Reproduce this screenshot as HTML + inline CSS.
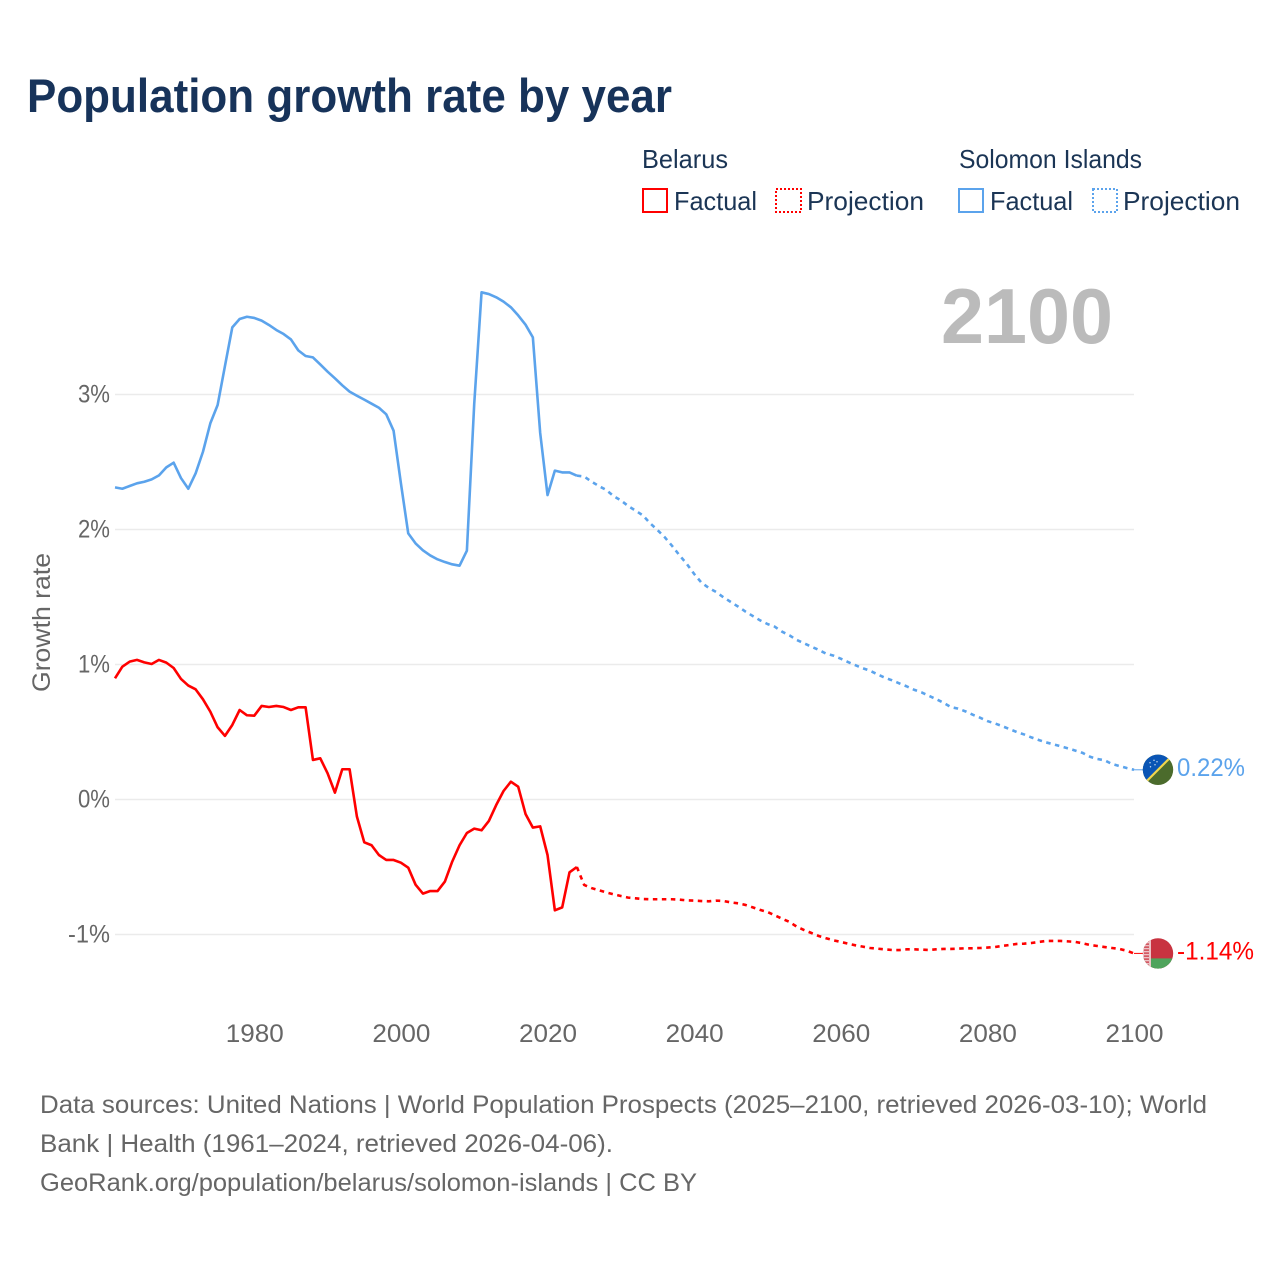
<!DOCTYPE html>
<html lang="en">
<head>
<meta charset="utf-8">
<title>Population growth rate by year</title>
<style>
html,body{margin:0;padding:0;background:#fff}
svg{display:block}
text{font-family:"Liberation Sans",sans-serif}
.legend{font-size:26px;fill:#1b3555}
.tick{font-size:25px;fill:#666}
.foot{font-size:25px;fill:#666}
</style>
</head>
<body>
<svg id="chart" width="1280" height="1280" viewBox="0 0 1280 1280" xmlns="http://www.w3.org/2000/svg">
  <rect width="1280" height="1280" fill="#fff"/>
  <text x="27" y="112" font-size="47" font-weight="700" fill="#17335a" textLength="645" lengthAdjust="spacingAndGlyphs">Population growth rate by year</text>

  <g>
    <text class="legend" x="642" y="168" textLength="86" lengthAdjust="spacingAndGlyphs">Belarus</text>
    <rect x="643" y="189" width="24" height="23" fill="none" stroke="#ff0000" stroke-width="2"/>
    <text class="legend" x="674" y="210" textLength="83" lengthAdjust="spacingAndGlyphs">Factual</text>
    <rect x="776" y="189" width="25" height="23" fill="none" stroke="#ff0000" stroke-width="2" stroke-dasharray="2 2"/>
    <text class="legend" x="807" y="210" textLength="117" lengthAdjust="spacingAndGlyphs">Projection</text>
    <text class="legend" x="959" y="168" textLength="183" lengthAdjust="spacingAndGlyphs">Solomon Islands</text>
    <rect x="959" y="189" width="24" height="23" fill="none" stroke="#5ba3ec" stroke-width="2"/>
    <text class="legend" x="990" y="210" textLength="83" lengthAdjust="spacingAndGlyphs">Factual</text>
    <rect x="1093" y="189" width="24" height="23" fill="none" stroke="#5ba3ec" stroke-width="2" stroke-dasharray="2 2"/>
    <text class="legend" x="1123" y="210" textLength="117" lengthAdjust="spacingAndGlyphs">Projection</text>
  </g>

  <text x="941" y="343" font-size="78" font-weight="700" fill="#bbbbbb" textLength="172" lengthAdjust="spacingAndGlyphs">2100</text>
  <text class="tick" x="0" y="0" transform="translate(50 622.5) rotate(-90)" text-anchor="middle" textLength="139" lengthAdjust="spacingAndGlyphs">Growth rate</text>

  <g id="grid"></g>
  <g id="yticks"></g>
  <g id="xticks"></g>
  <g id="series"></g>
  <g id="markers"></g>

  <g>
    <text class="foot" x="40" y="1113" textLength="1167" lengthAdjust="spacingAndGlyphs">Data sources: United Nations | World Population Prospects (2025–2100, retrieved 2026-03-10); World</text>
    <text class="foot" x="40" y="1152" textLength="573" lengthAdjust="spacingAndGlyphs">Bank | Health (1961–2024, retrieved 2026-04-06).</text>
    <text class="foot" x="40" y="1191" textLength="657" lengthAdjust="spacingAndGlyphs">GeoRank.org/population/belarus/solomon-islands | CC BY</text>
  </g>
</svg>
<script>
const firstYear = 1961;
const lastYear = 2100;
const projectionStartYear = 2024;
const xTickYears = [1980, 2000, 2020, 2040, 2060, 2080, 2100];
const yTickValues = [-1, 0, 1, 2, 3];

const belarusFactual = [
  0.898,0.984,1.021,1.034,1.016,1.004,1.034,1.014,0.974,0.893,
  0.844,0.816,0.742,0.651,0.535,0.471,0.552,0.663,0.624,0.621,
  0.693,0.685,0.693,0.685,0.663,0.683,0.683,0.293,0.305,0.194,
  0.051,0.224,0.224,-0.127,-0.317,-0.339,-0.411,-0.448,-0.448,-0.468,
  -0.505,-0.631,-0.697,-0.678,-0.678,-0.608,-0.460,-0.339,-0.248,-0.216,
  -0.228,-0.159,-0.041,0.063,0.132,0.095,-0.107,-0.208,-0.199,-0.411,
  -0.821,-0.799,-0.539,-0.500
];
const belarusProjection = [
  -0.500,-0.633,-0.656,-0.672,-0.688,-0.702,-0.715,-0.727,-0.732,-0.737,
  -0.739,-0.739,-0.739,-0.739,-0.742,-0.747,-0.749,-0.752,-0.754,-0.749,
  -0.752,-0.762,-0.769,-0.781,-0.799,-0.818,-0.833,-0.858,-0.883,-0.907,
  -0.942,-0.967,-0.989,-1.011,-1.028,-1.043,-1.055,-1.068,-1.080,-1.090,
  -1.100,-1.105,-1.110,-1.115,-1.115,-1.110,-1.110,-1.112,-1.115,-1.110,
  -1.107,-1.107,-1.105,-1.102,-1.102,-1.100,-1.097,-1.093,-1.085,-1.078,
  -1.070,-1.068,-1.063,-1.055,-1.048,-1.048,-1.048,-1.051,-1.055,-1.065,
  -1.078,-1.085,-1.093,-1.100,-1.107,-1.120,-1.140
];
const solomonFactual = [
  2.312,2.302,2.322,2.342,2.354,2.371,2.401,2.460,2.495,2.381,
  2.302,2.416,2.576,2.786,2.922,3.211,3.497,3.559,3.576,3.567,
  3.547,3.515,3.478,3.448,3.408,3.327,3.285,3.275,3.223,3.169,
  3.120,3.068,3.021,2.991,2.962,2.932,2.902,2.853,2.732,2.342,
  1.971,1.897,1.846,1.808,1.779,1.759,1.742,1.732,1.843,2.930,
  3.757,3.744,3.720,3.688,3.646,3.586,3.517,3.423,2.715,2.255,
  2.436,2.423,2.423,2.399
];
const solomonProjection = [
  2.399,2.392,2.355,2.322,2.293,2.248,2.216,2.174,2.140,2.105,
  2.046,1.996,1.942,1.878,1.809,1.745,1.671,1.606,1.567,1.537,
  1.498,1.463,1.429,1.392,1.359,1.327,1.300,1.280,1.243,1.216,
  1.182,1.157,1.132,1.108,1.080,1.066,1.043,1.018,0.995,0.972,
  0.954,0.927,0.902,0.883,0.860,0.838,0.813,0.794,0.769,0.744,
  0.717,0.685,0.673,0.653,0.628,0.606,0.581,0.564,0.544,0.522,
  0.500,0.482,0.460,0.441,0.423,0.409,0.394,0.379,0.362,0.345,
  0.317,0.300,0.290,0.263,0.248,0.233,0.220
];

const NS = 'http://www.w3.org/2000/svg';
const plotLeft = 115, plotRight = 1134;
const xScale = y => plotLeft + (y - firstYear) * (plotRight - plotLeft) / (lastYear - firstYear);
const yScale = v => 799.5 - v * 135;
const make = (tag, attrs, parent) => {
  const el = document.createElementNS(NS, tag);
  for (const k in attrs) el.setAttribute(k, attrs[k]);
  parent.appendChild(el);
  return el;
};
const grid = document.getElementById('grid');
const yticks = document.getElementById('yticks');
const xticks = document.getElementById('xticks');
const series = document.getElementById('series');
const markers = document.getElementById('markers');

yTickValues.forEach(v => {
  const line = make('line', {x1: plotLeft, x2: plotRight, y1: yScale(v), y2: yScale(v), stroke: '#ebebeb', 'stroke-width': 1.4}, grid);
  
  
  const label = v + '%';
  const t = make('text', {class: 'tick', x: 110, y: yScale(v) + 8, 'text-anchor': 'end', textLength: v < 0 ? 42 : 32, lengthAdjust: 'spacingAndGlyphs'}, yticks);
  
  
  t.textContent = label;
});
xTickYears.forEach(y => {
  const t = make('text', {class: 'tick', x: xScale(y) + 0.5, y: 1042, 'text-anchor': 'middle', textLength: 58, lengthAdjust: 'spacingAndGlyphs'}, xticks);
  
  
  t.textContent = y;
});

function drawLine(values, startYear, color, dash, name) {
  const d = values.map((v, i) => (i ? 'L' : 'M') + xScale(startYear + i).toFixed(2) + ' ' + yScale(v).toFixed(2)).join('');
  const p = make('path', {d: d, fill: 'none', stroke: color, 'stroke-width': 2.6, 'stroke-linejoin': 'round'}, series);
  if (dash) p.setAttribute('stroke-dasharray', dash);
  
  
}
const RED = '#ff0000', BLUE = '#5ba3ec';
drawLine(solomonFactual, firstYear, BLUE, null, 'solomon-factual-line');
drawLine(solomonProjection, projectionStartYear, BLUE, '4.5 4.5', 'solomon-projection-line');
drawLine(belarusFactual, firstYear, RED, null, 'belarus-factual-line');
drawLine(belarusProjection, projectionStartYear, RED, '4.5 4.5', 'belarus-projection-line');

function endMarker(value, color, labelWidth, name, drawFlag) {
  const cy = yScale(value), cx = 1158;
  const conn = make('line', {x1: plotRight, x2: 1143, y1: cy, y2: cy, stroke: color, 'stroke-width': 1}, markers);
  
  
  const g = make('g', {transform: 'translate(' + cx + ' ' + cy + ')'}, markers);
  
  
  drawFlag(g);
  const t = make('text', {x: 1177, y: cy + 6, 'font-size': 25, fill: color, textLength: labelWidth, lengthAdjust: 'spacingAndGlyphs'}, markers);
  
  
  t.textContent = value.toFixed(2) + '%';
}
const defs = make('defs', {}, document.getElementById('chart'));
const clip = make('clipPath', {id: 'flag-clip'}, defs);
make('circle', {r: 15.2}, clip);

endMarker(solomonProjection[solomonProjection.length - 1], BLUE, 68, 'solomon', g => {
  const c = make('g', {'clip-path': 'url(#flag-clip)'}, g);
  make('rect', {x: -16, y: -16, width: 32, height: 32, fill: '#4b6b2c'}, c);
  make('polygon', {points: '-16,-16 16,-16 -16,16', fill: '#0a55b5'}, c);
  make('line', {x1: -16, y1: 16, x2: 16, y2: -16, stroke: '#f0d64c', 'stroke-width': 2.2}, c);
  [[-8, -7], [-4, -9.5], [-3, -5], [-7.5, -3], [-1, -8]].forEach(s => make('circle', {cx: s[0], cy: s[1], r: 0.7, fill: '#dfe9f5'}, c));
});
endMarker(belarusProjection[belarusProjection.length - 1], RED, 77, 'belarus', g => {
  const c = make('g', {'clip-path': 'url(#flag-clip)'}, g);
  make('rect', {x: -16, y: -16, width: 32, height: 32, fill: '#c83340'}, c);
  make('rect', {x: -16, y: 5, width: 32, height: 12, fill: '#4fa45c'}, c);
  make('rect', {x: -16, y: -16, width: 9, height: 32, fill: '#ecc3c6'}, c);
  make('line', {x1: -11.5, x2: -11.5, y1: -16, y2: 16, stroke: '#cf4a55', 'stroke-width': 5, 'stroke-dasharray': '1.5 1.5'}, c);
});
</script>
</body>
</html>
